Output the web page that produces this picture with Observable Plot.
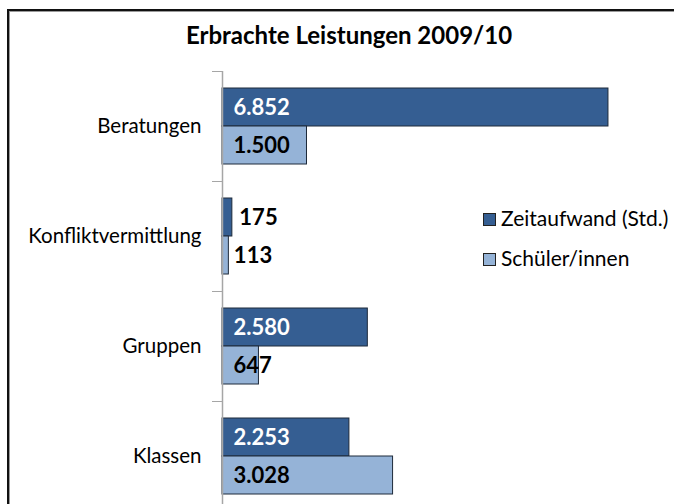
<!DOCTYPE html>
<html><head><meta charset="utf-8">
<script src="https://cdn.jsdelivr.net/npm/d3@7"></script>
<script src="https://cdn.jsdelivr.net/npm/@observablehq/plot@0.6"></script>
<style>
html,body{margin:0;padding:0;background:#fff;overflow:hidden}
#wrap{position:relative;width:674px;height:504px;overflow:hidden;font-family:Lato,"Open Sans",sans-serif;color:#000}
#frame{position:absolute;left:7px;top:9px;width:760px;height:600px;border-top:2px solid #111;border-left:2px solid #111;box-shadow:inset 1px 1px 0 #9a9a9a}
#title{position:absolute;left:8px;width:682px;top:19px;text-align:center;font-weight:bold;font-size:24px;line-height:32px}
#chart{position:absolute;left:0;top:0}
.leg{position:absolute;left:483px;font-size:21px;line-height:22px;white-space:nowrap}
.sw{display:inline-block;width:11px;height:11px;border:1px solid #222;margin-right:5px;vertical-align:0px}
</style></head>
<body>
<div id="wrap">
  <div id="frame"></div>
  <div id="chart"></div>
  <div id="title">Erbrachte Leistungen 2009/10</div>
  <div id="legend"></div>
</div>
<script>
const categories = ["Beratungen", "Konfliktvermittlung", "Gruppen", "Klassen"];
const zeitaufwand = [6852, 175, 2580, 2253];
const schueler = [1500, 113, 647, 3028];
const seriesNames = ["Zeitaufwand (Std.)", "Schüler/innen"];
const colors = ["#355E92", "#95B3D7"];

const de = d3.formatLocale({decimal: ",", thousands: ".", grouping: [3], currency: ["", " €"]});
const fmt = de.format(",");

const data = categories.map((c, i) => ({category: c, zeit: zeitaufwand[i], sch: schueler[i]}));
const small = 200;

const chart = Plot.plot({
  width: 674,
  height: 520,
  marginLeft: 222,
  marginRight: 57.7,
  marginTop: 71,
  marginBottom: 9,
  style: {fontFamily: "Lato, 'Open Sans', sans-serif", background: "transparent", color: "#000"},
  x: {domain: [0, 7000], axis: null},
  y: {domain: categories, paddingInner: 0.309, paddingOuter: 0.1545, axis: null},
  marks: [
    Plot.barX(data, {y: "category", x: "zeit", fill: colors[0], stroke: "#1e2a3a", strokeWidth: 1, insetBottom: 38}),
    Plot.barX(data, {y: "category", x: "sch", fill: colors[1], stroke: "#1e2a3a", strokeWidth: 1, insetTop: 38}),
    Plot.ruleX([0], {stroke: "#a6a6a6", strokeWidth: 1.5}),
    Plot.axisY({tickSize: 10, dy: -55, tickFormat: () => "", stroke: "#a6a6a6", label: null}),
    Plot.axisY({tickSize: 0, tickPadding: 21, fontSize: 20.5, fill: "#000", label: null}),
    Plot.text(data.filter(d => d.zeit >= small), {y: "category", x: 0, text: d => fmt(d.zeit), dx: 11, dy: -19, textAnchor: "start", fill: "white", fontWeight: "bold", fontSize: 22}),
    Plot.text(data.filter(d => d.zeit < small), {y: "category", x: "zeit", text: d => fmt(d.zeit), dx: 7, dy: -19, textAnchor: "start", fill: "#000", fontWeight: "bold", fontSize: 22}),
    Plot.text(data.filter(d => d.sch >= small), {y: "category", x: 0, text: d => fmt(d.sch), dx: 11, dy: 19, textAnchor: "start", fill: "#000", fontWeight: "bold", fontSize: 22}),
    Plot.text(data.filter(d => d.sch < small), {y: "category", x: "sch", text: d => fmt(d.sch), dx: 5, dy: 19, textAnchor: "start", fill: "#000", fontWeight: "bold", fontSize: 22})
  ]
});
document.getElementById("chart").appendChild(chart);

const legend = document.getElementById("legend");
seriesNames.forEach((name, i) => {
  const row = document.createElement("div");
  row.className = "leg";
  row.style.top = (207 + i * 40) + "px";
  const sw = document.createElement("span");
  sw.className = "sw";
  sw.style.background = colors[i];
  row.appendChild(sw);
  row.appendChild(document.createTextNode(name));
  legend.appendChild(row);
});
</script>
</body></html>
